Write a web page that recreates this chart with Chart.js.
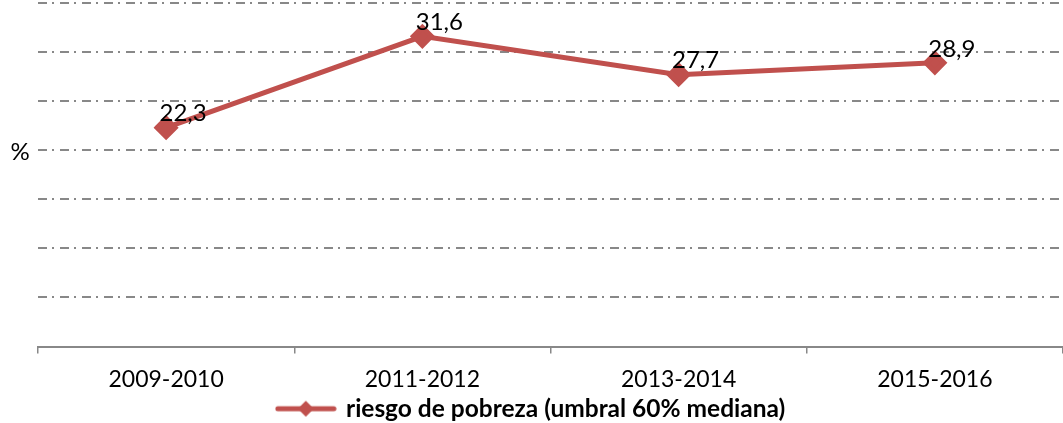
<!DOCTYPE html>
<html><head><meta charset="utf-8">
<script src="https://cdn.jsdelivr.net/npm/chart.js@4"></script>
<style>html,body{margin:0;padding:0;background:#fff}#w{width:1063px;height:423px}</style>
</head><body><div id="w"><canvas id="c"></canvas></div>
<script>
const categories = ['2009-2010','2011-2012','2013-2014','2015-2016'];
const riesgoPobreza = [22.3, 31.6, 27.7, 28.9];
const seriesLabel = 'riesgo de pobreza (umbral 60% mediana)';
const yTitle = '%';
const RED = '#C0504D';
const GRAY = '#888888';
const FONT = 'Lato, "Liberation Sans", sans-serif';

// legend symbol: line with diamond
const sym = document.createElement('canvas');
sym.width = 62; sym.height = 22;
(function(){const g=sym.getContext('2d');g.strokeStyle=RED;g.lineWidth=5;g.lineCap='round';
g.beginPath();g.moveTo(3,11);g.lineTo(59,11);g.stroke();
g.fillStyle=RED;g.beginPath();g.moveTo(31,3);g.lineTo(39,11);g.lineTo(31,19);g.lineTo(23,11);g.closePath();g.fill();})();

const labelsPlugin = {
  id:'vlabels',
  afterDatasetsDraw(chart){
    const ctx=chart.ctx, meta=chart.getDatasetMeta(0);
    ctx.save(); ctx.font='24px '+FONT; ctx.fillStyle='#000'; ctx.textAlign='center'; ctx.textBaseline='middle';
    meta.data.forEach((p,i)=>{ ctx.fillText(riesgoPobreza[i].toFixed(1).replace('.',','), p.x+17, p.y-14); });
    const ys=chart.scales.y;
    ctx.fillText(yTitle, 20, ys.getPixelForValue(20)+2);
    ctx.restore();
  }
};

new Chart(document.getElementById('c'), {
  type:'line',
  data:{labels:categories, datasets:[{label:seriesLabel, data:riesgoPobreza, borderColor:RED, backgroundColor:RED,
    borderWidth:5, pointStyle:'rectRot', pointRadius:9, pointHoverRadius:9, tension:0}]},
  options:{
    responsive:true, maintainAspectRatio:false, animation:false,
    layout:{autoPadding:false, padding:{left:0, right:0, top:3, bottom:-8}},
    plugins:{
      tooltip:{enabled:false},
      legend:{position:'bottom', labels:{usePointStyle:true, pointStyle:sym, pointStyleWidth:56, padding:2,
        font:{family:FONT, size:24.5, weight:'bold'}, color:'#000',
        generateLabels(chart){return [{text:seriesLabel, pointStyle:sym, fillStyle:RED, strokeStyle:RED, lineWidth:0, datasetIndex:0, fontColor:'#000'}];}}}
    },
    scales:{
      x:{offset:true, grid:{offset:true, drawOnChartArea:false, tickLength:7, color:GRAY, lineWidth:1.5},
         border:{color:GRAY, width:2, z:1},
         ticks:{font:{family:FONT, size:23}, color:'#000', padding:12, maxRotation:0},
         afterFit(s){ s.height = 48; }},
      y:{min:0, max:35, ticks:{display:false, stepSize:5},
         grid:{color:(c)=>c.tick.value===0?'rgba(0,0,0,0)':GRAY, lineWidth:2, drawTicks:false, tickLength:0},
         border:{display:false, dash:[9,5,2,6]},
         afterFit(s){ s.width = 38; }}
    }
  },
  plugins:[labelsPlugin]
});
</script></body></html>
